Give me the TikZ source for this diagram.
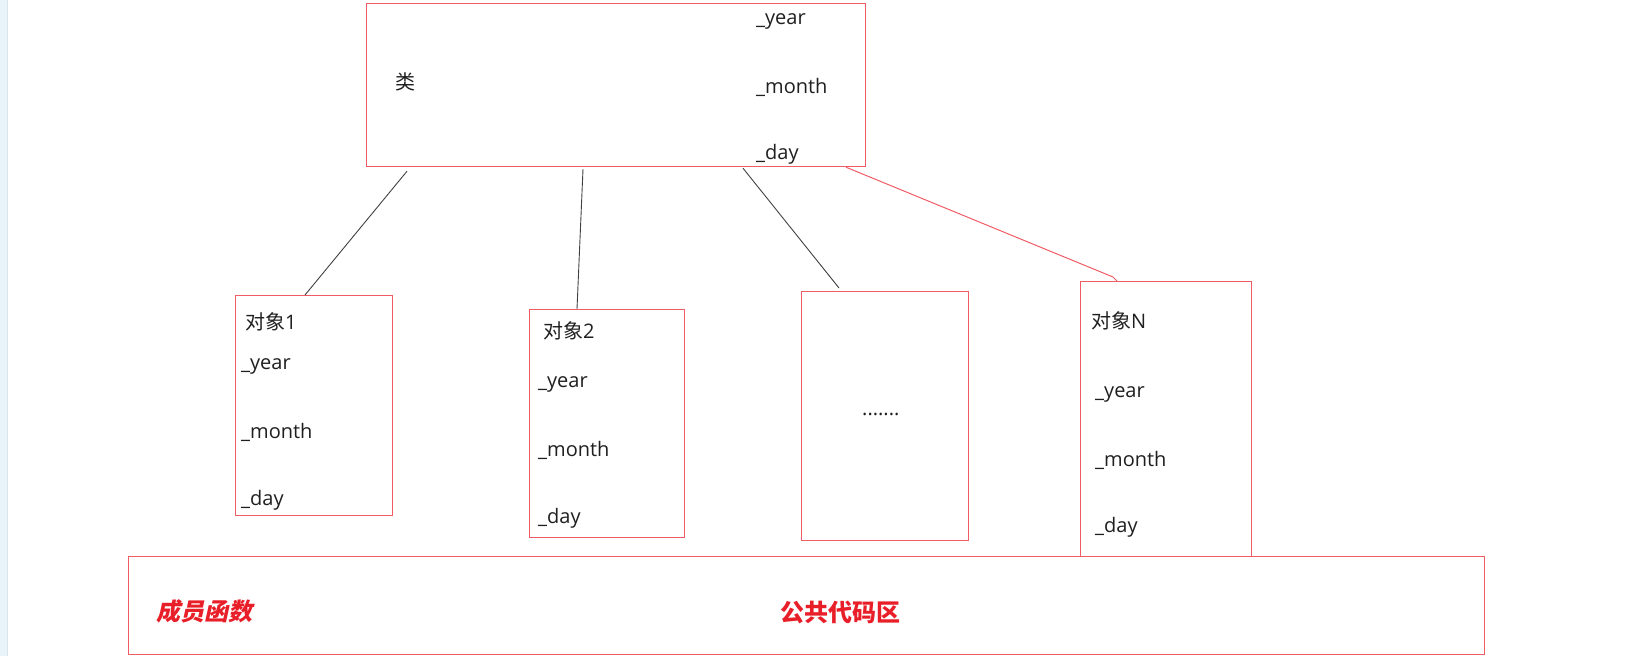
\documentclass[tikz,border=0pt]{standalone}
\usepackage{fontspec}
\setmainfont{Open Sans}
\newfontfamily\cjk{Noto Sans CJK SC}
\newfontfamily\cjksl[FakeSlant=0.22]{Noto Sans CJK SC}
\usetikzlibrary{calc}
\definecolor{boxred}{RGB}{240,92,100}
\definecolor{txtred}{RGB}{232,30,40}
\definecolor{stripbg}{RGB}{232,244,248}
\definecolor{stripln}{RGB}{214,230,236}
\tikzset{
  box/.style={draw=boxred, line width=1.2pt, rectangle, anchor=north west, inner sep=0pt},
  lbl/.style={anchor=west, inner sep=0pt, font=\fontsize{20}{24}\selectfont, text=black!88},
  conn/.style={draw=black!75, line width=0.9pt},
  redconn/.style={draw=boxred, line width=1pt},
  bigred/.style={anchor=west, inner sep=0pt, font=\fontsize{24}{28}\selectfont\bfseries, text=txtred},
}
\begin{document}
\begin{tikzpicture}[x=1pt,y=-1pt]
\useasboundingbox (0,0) rectangle (1650,656);
\fill[stripbg] (0,0) rectangle (7,656);
\draw[stripln, line width=1pt] (7,0) -- (7,656);

% boxes
\node[box, minimum width=499pt, minimum height=163pt] (cls) at (366,3) {};
\node[box, minimum width=157pt, minimum height=220pt] (o1) at (235,295) {};
\node[box, minimum width=155pt, minimum height=228pt] (o2) at (529,309) {};
\node[box, minimum width=167pt, minimum height=249pt] (o3) at (801,291) {};
\node[box, minimum width=171pt, minimum height=275pt] (oN) at (1080,281) {};
\node[box, minimum width=1356pt, minimum height=98pt] (pub) at (128,556) {};

% class box texts
\node[lbl] (clsname) at (395,82) {\cjk 类};
\node[lbl] (cy) at (756,21) {\_year};
\node[lbl] (cm) at (756,87) {\_month};
\node[lbl] (cd) at (756,154) {\_day};

% object 1
\node[lbl] (t1) at (245,322) {{\cjk 对象}1};
\node[lbl] (y1) at (241,366) {\_year};
\node[lbl] (m1) at (241,432) {\_month};
\node[lbl] (d1) at (241,500) {\_day};

% object 2
\node[lbl] (t2) at (543,331) {{\cjk 对象}2};
\node[lbl] (y2) at (538,384) {\_year};
\node[lbl] (m2) at (538,450) {\_month};
\node[lbl] (d2) at (538,518) {\_day};

% object ...
\node[lbl, anchor=base west] (dots) at (862,415) {.......};

% object N
\node[lbl] (tN) at (1091,321) {{\cjk 对象}N};
\node[lbl] (yN) at (1095,394) {\_year};
\node[lbl] (mN) at (1095,460) {\_month};
\node[lbl] (dN) at (1095,527) {\_day};

% public code area
\node[bigred] (mf) at (156,611) {\cjksl 成员函数};
\node[bigred] (pc) at (780,612) {\cjk 公共代码区};

% connectors
\draw[conn] ($(cls.south west)+(41,4)$) -- ($(o1.north west)+(70,0)$);
\draw[conn] ($(cls.south west)+(217,2)$) -- ($(o2.north west)+(48,0)$);
\draw[conn] ($(cls.south west)+(377,1)$) -- ($(o3.north west)+(38,-3)$);
\draw[redconn] ($(cls.south west)+(480,0)$) -- ($(oN.north west)+(33,-4)$) -- ($(oN.north west)+(37,0)$);
\end{tikzpicture}
\end{document}
